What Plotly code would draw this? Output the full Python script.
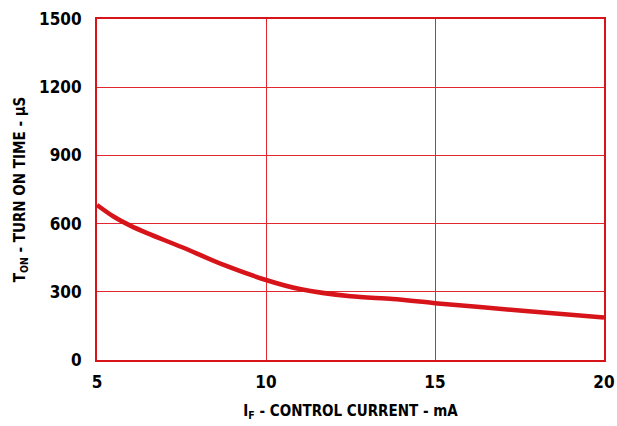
import plotly.graph_objects as go

control_current_mA = [5, 5.5, 6, 6.5, 7.5, 8.75, 10, 11, 12.5, 13.75, 15, 17.5, 20]
turn_on_time_us = [682, 630, 590, 557, 497, 418, 352, 312, 280, 268, 250, 218, 187]

x_ticks = [5, 10, 15, 20]
y_ticks = [0, 300, 600, 900, 1200, 1500]

RED = "#d7141a"
GRID = "#e0282e"
FONT = "DejaVu Sans Condensed, DejaVu Sans, sans-serif"

fig = go.Figure()
fig.add_trace(go.Scatter(x=control_current_mA, y=turn_on_time_us, mode="lines",
                         line=dict(color=RED, width=4.5, shape="spline", smoothing=0.8),
                         showlegend=False, hoverinfo="skip", cliponaxis=False))

tf = dict(family=FONT, size=17, color="black", weight="bold")
ttf = dict(family=FONT, size=15, color="black", weight="bold")

fig.update_layout(
    width=617, height=426,
    margin=dict(l=97, r=13, t=19, b=66),
    paper_bgcolor="white", plot_bgcolor="white",
    font=tf,
    xaxis=dict(range=[5, 20], tickvals=x_ticks, automargin=False,
               showgrid=True, gridcolor=GRID, gridwidth=1,
               showline=True, linecolor=RED, linewidth=2, mirror=True,
               zeroline=False, ticks="outside", ticklen=6, tickcolor="rgba(0,0,0,0)", tickfont=tf,
               title=dict(text="I<sub>F</sub> - CONTROL CURRENT - mA", font=ttf, standoff=14)),
    yaxis=dict(range=[0, 1500], tickvals=y_ticks, automargin=False,
               showgrid=True, gridcolor=GRID, gridwidth=1,
               showline=True, linecolor=RED, linewidth=2, mirror=True,
               zeroline=False, ticks="outside", ticklen=10, tickcolor="rgba(0,0,0,0)",
               tickfont=tf,
               title=dict(text="T<sub>ON</sub> - TURN ON TIME - µS", font=ttf, standoff=10)),
)

fig.write_html("out.html", config={"displayModeBar": False},
               post_script="document.body.style.margin='0';document.body.style.overflow='hidden';")
